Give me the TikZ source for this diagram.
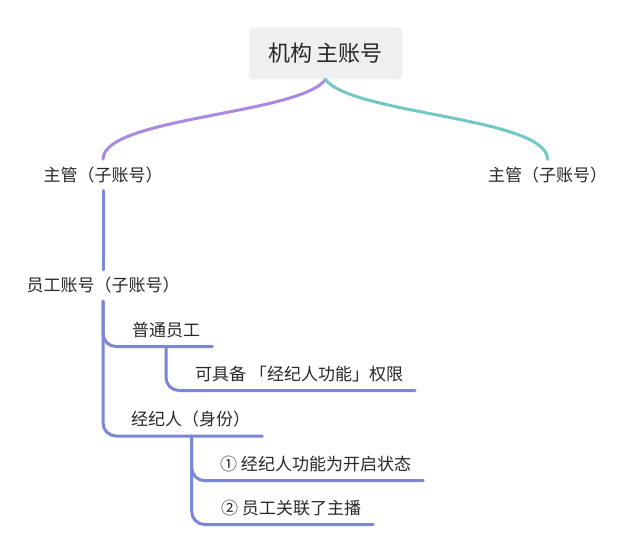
\documentclass[tikz,border=0pt]{standalone}
\usepackage{fontspec}
\newfontfamily\cjk{Noto Sans CJK SC}
\usepackage{tikz}
\usetikzlibrary{positioning, calc}
\definecolor{MapText}{RGB}{40,40,40}
\definecolor{MapRoot}{RGB}{238,240,240}
\definecolor{MapPurple}{RGB}{168,138,226}
\definecolor{MapTeal}{RGB}{116,200,196}
\definecolor{MapBlue}{RGB}{122,134,217}

\begin{document}
\begin{tikzpicture}[x=1pt, y=-1pt,
    rootbox/.style={rounded corners=4pt, fill=MapRoot, minimum width=153pt,
                    minimum height=52pt, font=\cjk\fontsize{22}{26}\selectfont,
                    text=MapText},
    tag/.style={minimum height=31pt, inner sep=0pt,
                font=\cjk\fontsize{17}{20}\selectfont, text=MapText},
    leaf/.style={tag, anchor=south west, minimum height=33pt, inner xsep=12pt},
    branch/.style={line width=3pt, line cap=round, MapBlue, rounded corners=13pt},
    curve/.style={line width=3pt, line cap=round}
  ]
    \fill[white] (0,0) rectangle (626,537);
    \useasboundingbox (0,0) rectangle (626,537);

    % Root
    \node[rootbox] (root) at (325.5,53.3) {机构 主账号};

    % Managers
    \node[tag] (leadL) at (103,175) {主管（子账号）};
    \node[tag] (leadR) at (547.5,175) {主管（子账号）};

    \draw[curve, MapPurple] (root.south) .. controls +(-26,35) and +(0,-42) .. (leadL.north);
    \draw[curve, MapTeal] (root.south) .. controls +(26,35) and +(0,-42) .. (leadR.north);

    % Staff account
    \node[tag] (staff) at (103,285.5) {员工账号（子账号）};
    \draw[branch] (leadL.south) -- (staff.north);

    \node[leaf] (plain) at (120,346.5) {普通员工};
    \node[leaf] (perm) at (183,390.5) {可具备 「经纪人功能」权限};
    \node[leaf] (agent) at (119,436) {经纪人（身份）};
    \node[leaf] (cond1) at (208,480.7) {① 经纪人功能为开启状态};
    \node[leaf] (cond2) at (209,524.5) {② 员工关联了主播};

    \coordinate (plainfork) at (166,346.5);
    \coordinate (agentfork) at (191.7,436);

    \draw[branch] (staff.south) |- (plain.south east);
    \draw[branch] (staff.south) |- (agent.south east);
    \draw[branch] (plainfork) |- (perm.south east);
    \draw[branch] (agentfork) |- (cond1.south east);
    \draw[branch] (agentfork) |- (cond2.south east);
  \end{tikzpicture}
\end{document}
